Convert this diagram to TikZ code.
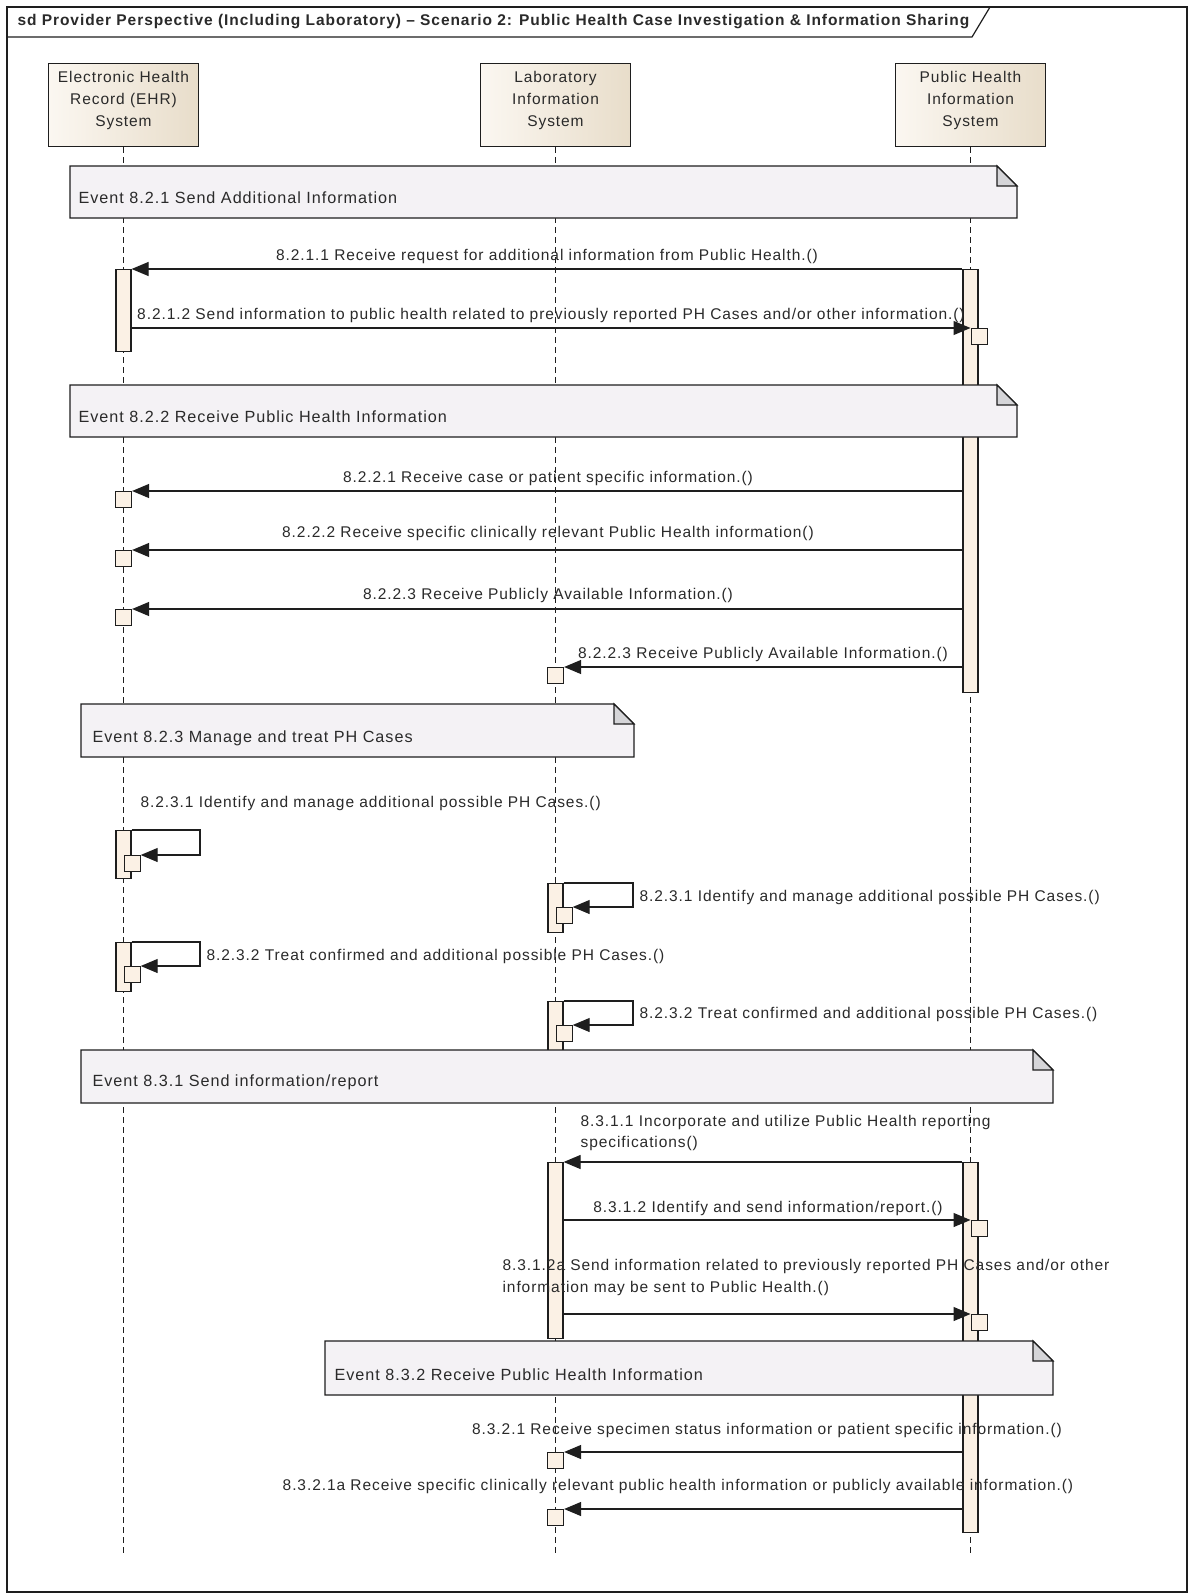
\documentclass[tikz,border=0pt]{standalone}
\usepackage{fontspec}
\setmainfont{Liberation Sans}[LetterSpace=6]
\usetikzlibrary{arrows.meta}
\definecolor{boxA}{HTML}{FBF7F1}
\definecolor{boxB}{HTML}{E8DDCA}
\definecolor{actfill}{HTML}{FBF1E5}
\definecolor{evfill}{HTML}{F4F2F5}
\definecolor{foldfill}{HTML}{D5D5D8}
\definecolor{ink}{HTML}{1E1E1E}
\definecolor{txt}{HTML}{2A2A2A}
\newcommand\evbox[8]{%
  \filldraw[draw=ink, fill=evfill] (#2,#3) -- ({#4-20},#3) -- (#4,{#3+20}) -- (#4,#5) -- (#2,#5) -- cycle;
  \filldraw[draw=ink, fill=foldfill] ({#4-20},#3) -- ({#4-20},{#3+20}) -- (#4,{#3+20}) -- cycle;
  \coordinate (#1) at (#2,#3);
  \node[evtxt] (#1l) at (#6,#7) {#8};}
\begin{document}
\begin{tikzpicture}[x=1pt,y=-1pt,line width=1.2pt,
  lifebox/.style={draw=ink, left color=boxA, right color=boxB, minimum width=150pt, minimum height=83pt, inner sep=0pt, anchor=north},
  boxtxt/.style={align=center, font=\fontsize{15.5}{22}\selectfont, text=txt, inner sep=0pt},
  lifeline/.style={draw=ink, line width=1pt, dash pattern=on 6pt off 4pt},
  actbar/.style={draw=ink, fill=actfill, minimum width=15pt, inner sep=0pt, anchor=north},
  smallbox/.style={draw=ink, fill=actfill, minimum width=16pt, minimum height=16pt, inner sep=0pt},
  msg/.style={draw=ink, -{Triangle[length=17pt,width=14pt]}},
  lbl/.style={font=\fontsize{15.5}{21.5}\selectfont, text=txt, inner sep=0pt},
  evtxt/.style={font=\fontsize{16.2}{21.5}\selectfont, text=txt, inner sep=0pt, anchor=west}]

\useasboundingbox (0,0) rectangle (1190,1595);
\fill[white] (0,0) rectangle (1190,1595);

% frame and title
\draw[ink] (7,7) rectangle (1187,1592);
\draw[ink] (7,37) -- (972,37) -- (990,7);
\node[anchor=west, font=\bfseries\fontsize{15.5}{18}\selectfont, text=txt, inner sep=0pt] (title) at (17,22) {sd Provider Perspective (Including Laboratory) – Scenario 2: Public Health Case Investigation \& Information Sharing};

% lifeline heads
\node[lifebox] (ehr) at (123.5,63) {};
\node[boxtxt] (ehrt) at (123.5,100) {Electronic Health\\Record (EHR)\\System};
\node[lifebox] (lab) at (555.5,63) {};
\node[boxtxt] (labt) at (555.5,100) {Laboratory\\Information\\System};
\node[lifebox] (ph) at (970.5,63) {};
\node[boxtxt] (pht) at (970.5,100) {Public Health\\Information\\System};

% lifelines
\coordinate (ehrend) at (123.5,1556);
\coordinate (labend) at (555.5,1556);
\coordinate (phend) at (970.5,1556);
\draw[lifeline] (ehr.south) -- (ehrend);
\draw[lifeline] (lab.south) -- (labend);
\draw[lifeline] (ph.south) -- (phend);

% activation bars
\node[actbar, minimum height=82pt] (ehrA1) at (123.5,269) {};
\node[actbar, minimum height=423pt] (phA1) at (970.5,269) {};
\node[actbar, minimum height=48pt] (ehrS1) at (123.5,830) {};
\node[actbar, minimum height=49pt] (labS1) at (555.5,883) {};
\node[actbar, minimum height=49pt] (ehrS2) at (123.5,942) {};
\node[actbar, minimum height=49pt] (labS2) at (555.5,1001) {};
\node[actbar, minimum height=176pt] (labA2) at (555.5,1162) {};
\node[actbar, minimum height=370pt] (phA2) at (970.5,1162) {};

% events
\evbox{ev1}{70}{166}{1017}{218}{78}{198}{Event 8.2.1 Send Additional Information}
\evbox{ev2}{70}{385}{1017}{437}{78}{417}{Event 8.2.2 Receive Public Health Information}
\evbox{ev3}{81}{704}{634}{757}{92}{738}{Event 8.2.3 Manage and treat PH Cases}
\evbox{ev4}{81}{1050}{1053}{1103}{92}{1082}{Event 8.3.1 Send information/report}
\evbox{ev5}{325}{1341}{1053}{1395}{334}{1375}{Event 8.3.2 Receive Public Health Information}

% 8.2.1
\draw[msg] (phA1.north west) -- (ehrA1.north east);
\node[lbl] (l8211) at (547,256) {8.2.1.1 Receive request for additional information from Public Health.()};
\node[smallbox, anchor=north west] (phR1) at (970.5,328) {};
\draw[msg] (ehrA1.east |- phR1.north) -- (phR1.north west);
\node[lbl] (l8212) at (551,315) {8.2.1.2 Send information to public health related to previously reported PH Cases and/or other information.()};

% 8.2.2
\node[smallbox, anchor=north] (ehrR1) at (123.5,491) {};
\draw[msg] (phA1.west |- ehrR1.north) -- (ehrR1.north east);
\node[lbl] (l8221) at (548,478) {8.2.2.1 Receive case or patient specific information.()};
\node[smallbox, anchor=north] (ehrR2) at (123.5,550) {};
\draw[msg] (phA1.west |- ehrR2.north) -- (ehrR2.north east);
\node[lbl] (l8222) at (548,533) {8.2.2.2 Receive specific clinically relevant Public Health information()};
\node[smallbox, anchor=north] (ehrR3) at (123.5,609) {};
\draw[msg] (phA1.west |- ehrR3.north) -- (ehrR3.north east);
\node[lbl] (l8223) at (548,595) {8.2.2.3 Receive Publicly Available Information.()};
\node[smallbox, anchor=north] (labR1) at (555.5,667) {};
\draw[msg] (phA1.west |- labR1.north) -- (labR1.north east);
\node[lbl] (l8223b) at (763,654) {8.2.2.3 Receive Publicly Available Information.()};

% 8.2.3 self messages
\coordinate (s1a) at (200,830); \coordinate (s1b) at (200,855);
\node[smallbox, anchor=north west] (ehrSB1) at (123.5,855) {};
\draw[msg] (ehrS1.north east) -- (s1a) -- (s1b) -- (ehrSB1.north east);
\node[lbl, anchor=west] (l8231) at (140,803) {8.2.3.1 Identify and manage additional possible PH Cases.()};

\coordinate (s2a) at (633,883); \coordinate (s2b) at (633,907);
\node[smallbox, anchor=north west] (labSB1) at (555.5,907) {};
\draw[msg] (labS1.north east) -- (s2a) -- (s2b) -- (labSB1.north east);
\node[lbl, anchor=west] (l8231b) at (639,897) {8.2.3.1 Identify and manage additional possible PH Cases.()};

\coordinate (s3a) at (200,942); \coordinate (s3b) at (200,966);
\node[smallbox, anchor=north west] (ehrSB2) at (123.5,966) {};
\draw[msg] (ehrS2.north east) -- (s3a) -- (s3b) -- (ehrSB2.north east);
\node[lbl, anchor=west] (l8232) at (206,956) {8.2.3.2 Treat confirmed and additional possible PH Cases.()};

\coordinate (s4a) at (633,1001); \coordinate (s4b) at (633,1025);
\node[smallbox, anchor=north west] (labSB2) at (555.5,1025) {};
\draw[msg] (labS2.north east) -- (s4a) -- (s4b) -- (labSB2.north east);
\node[lbl, anchor=west] (l8232b) at (639,1014) {8.2.3.2 Treat confirmed and additional possible PH Cases.()};

% 8.3.1
\draw[msg] (phA2.north west) -- (labA2.north east);
\node[lbl, anchor=west, align=left] (l8311) at (580,1133) {8.3.1.1 Incorporate and utilize Public Health reporting\\specifications()};
\node[smallbox, anchor=north west] (phR2) at (970.5,1220) {};
\draw[msg] (labA2.east |- phR2.north) -- (phR2.north west);
\node[lbl] (l8312) at (768,1208) {8.3.1.2 Identify and send information/report.()};
\node[smallbox, anchor=north west] (phR3) at (970.5,1314) {};
\draw[msg] (labA2.east |- phR3.north) -- (phR3.north west);
\node[lbl, anchor=west, align=left] (l8312a) at (502,1277.5) {8.3.1.2a Send information related to previously reported PH Cases and/or other\\information may be sent to Public Health.()};

% 8.3.2
\node[smallbox, anchor=north] (labR2) at (555.5,1452) {};
\draw[msg] (phA2.west |- labR2.north) -- (labR2.north east);
\node[lbl] (l8321) at (767,1430) {8.3.2.1 Receive specimen status information or patient specific information.()};
\node[smallbox, anchor=north] (labR3) at (555.5,1509) {};
\draw[msg] (phA2.west |- labR3.north) -- (labR3.north east);
\node[lbl] (l8321a) at (678,1486) {8.3.2.1a Receive specific clinically relevant public health information or publicly available information.()};
\end{tikzpicture}
\end{document}
